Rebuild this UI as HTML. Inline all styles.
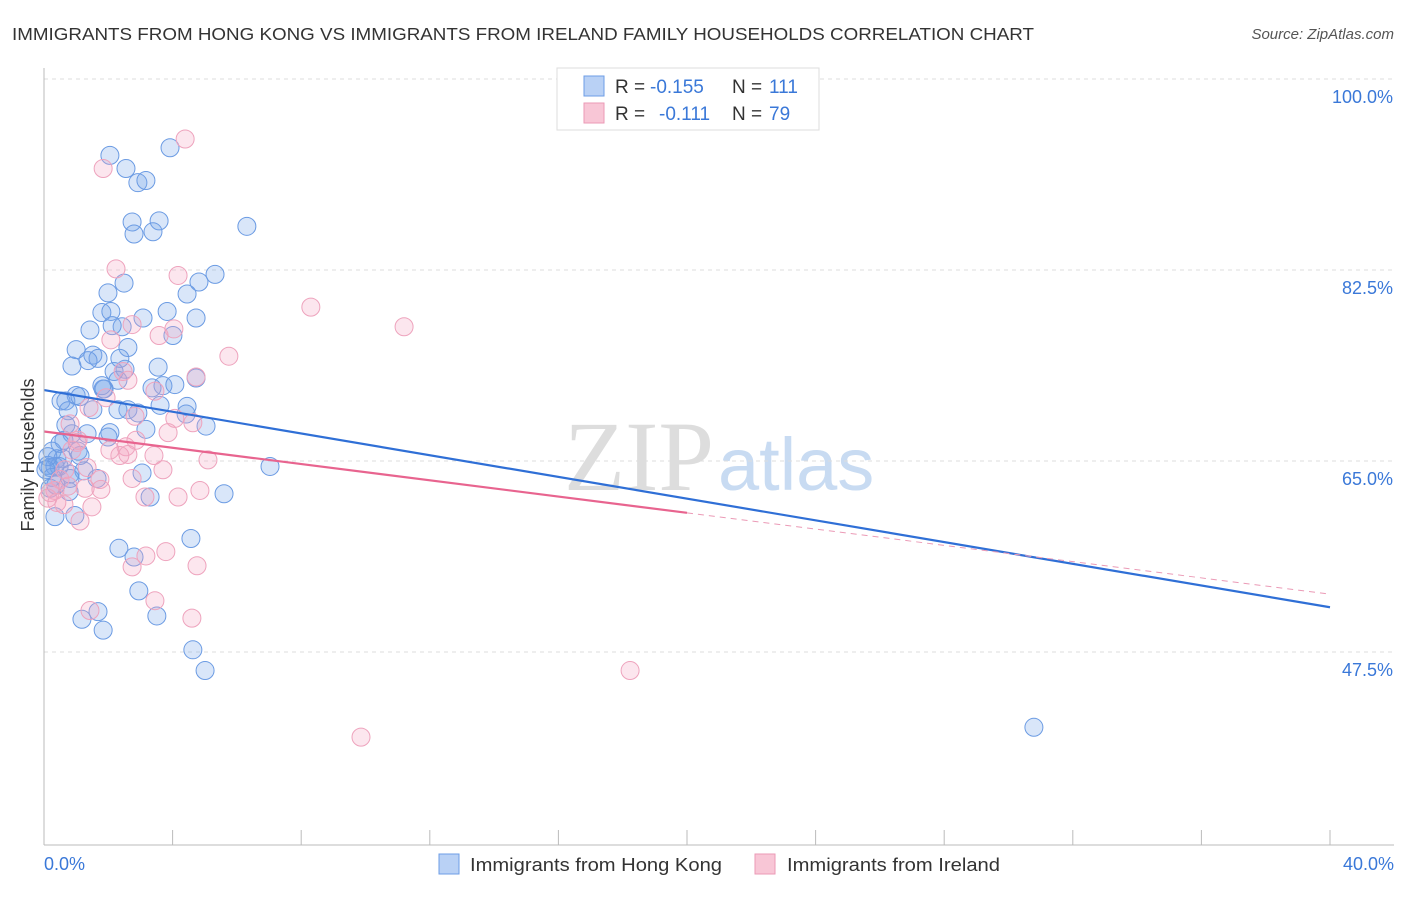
<!DOCTYPE html>
<html><head><meta charset="utf-8"><style>
body{margin:0;background:#fff;font-family:"Liberation Sans",sans-serif}
</style></head><body>
<svg width="1406" height="892" xmlns="http://www.w3.org/2000/svg" id="svg" style="font-family:'Liberation Sans',sans-serif">
<text x="12" y="40" font-size="17.5" fill="#333" textLength="1022" lengthAdjust="spacingAndGlyphs">IMMIGRANTS FROM HONG KONG VS IMMIGRANTS FROM IRELAND FAMILY HOUSEHOLDS CORRELATION CHART</text>
<text x="1394" y="39" font-size="15" fill="#555" font-style="italic" text-anchor="end">Source: ZipAtlas.com</text>
<text x="714" y="490" font-size="100" fill="#ddd" text-anchor="end" font-family="Liberation Serif,serif">ZIP</text>
<text x="718" y="490" font-size="74" fill="#c8dbf2">atlas</text>
<g id="grid"></g><g id="pts"></g><g id="lines"></g>
<line x1="44" y1="68" x2="44" y2="845" stroke="#bbb"/>
<line x1="44" y1="845" x2="1394" y2="845" stroke="#bbb"/>
<text x="34" y="455" font-size="18" fill="#333" text-anchor="middle" transform="rotate(-90 34 455)">Family Households</text>
<text x="44" y="870" font-size="18" fill="#3a78d8">0.0%</text>
<text x="1394" y="870" font-size="18" fill="#3a78d8" text-anchor="end">40.0%</text>
<rect x="557" y="68" width="262" height="62" fill="#fff" stroke="#ddd"/>
<rect x="584" y="76" width="20" height="20" fill="#b9d1f5" stroke="#6d9de6"/>
<rect x="584" y="103" width="20" height="20" fill="#f8c6d6" stroke="#eb9ab6"/>
<g font-size="19" fill="#333">
<text x="615" y="93">R =</text><text x="650" y="93" fill="#3a78d8">-0.155</text><text x="732" y="93">N =</text><text x="769" y="93" fill="#3a78d8">111</text></g>
<g font-size="19" fill="#333">
<text x="615" y="120">R =</text><text x="659" y="120" fill="#3a78d8">-0.111</text><text x="732" y="120">N =</text><text x="769" y="120" fill="#3a78d8">79</text></g>
<rect x="439" y="854" width="20" height="20" fill="#b9d1f5" stroke="#6d9de6"/>
<text x="470" y="871" font-size="18" fill="#333" textLength="252" lengthAdjust="spacingAndGlyphs">Immigrants from Hong Kong</text>
<rect x="755" y="854" width="20" height="20" fill="#f8c6d6" stroke="#eb9ab6"/>
<text x="787" y="871" font-size="18" fill="#333" textLength="213" lengthAdjust="spacingAndGlyphs">Immigrants from Ireland</text>
</svg>
<script>
const yTicks=[100,82.5,65,47.5];
const yTickLabels=["100.0%","82.5%","65.0%","47.5%"];
const xTicks=[0,4,8,12,16,20,24,28,32,36,40];
const blueX=[2.05,2.55,2.92,3.17,3.92,2.74,3.58,2.80,3.39,6.31,5.32,4.82,4.45,2.49,1.99,3.83,4.73,3.08,1.80,2.08,1.43,2.43,2.12,4.01,1.00,1.52,1.68,2.61,3.55,0.87,1.37,2.18,2.52,2.30,1.84,1.00,0.53,0.68,1.12,1.87,3.36,3.70,4.07,4.73,4.45,3.61,2.61,2.30,2.92,0.75,1.52,5.04,3.17,2.05,1.99,0.87,0.68,0.62,0.50,0.25,0.40,0.59,1.06,1.12,0.19,0.34,0.12,0.47,0.25,1.24,0.81,1.65,0.78,3.05,0.34,0.96,3.30,5.60,7.03,2.33,2.80,4.57,2.95,1.18,1.68,1.84,3.51,4.63,5.01,30.79,4.42,2.36,0.12,0.06,0.19,0.37,1.34,1.80,0.81];
const blueY=[93.0,91.8,90.5,90.7,93.7,86.9,87.0,85.8,86.0,86.5,82.1,81.4,80.3,81.3,80.4,78.7,78.1,78.1,78.6,78.7,77.0,77.3,77.4,76.5,75.2,74.7,74.4,75.4,73.6,73.7,74.2,73.2,73.4,72.4,71.6,71.0,70.5,70.5,70.9,71.6,71.7,71.9,72.0,72.6,70.0,70.1,69.7,69.7,69.4,69.6,69.7,68.2,67.9,67.6,67.2,67.5,68.3,66.9,66.6,65.9,65.2,65.2,65.9,65.5,64.4,64.5,64.6,64.5,63.5,64.1,63.4,63.4,62.2,63.9,59.9,60.0,61.7,62.0,64.5,57.0,56.2,57.9,53.1,50.5,51.2,49.5,50.8,47.7,45.8,40.6,69.3,74.4,65.4,64.2,62.5,62.8,67.5,71.9,63.8];
const pinkX=[4.39,1.84,2.24,4.17,8.30,11.20,2.74,2.08,4.04,3.58,5.75,4.73,2.46,2.61,3.45,1.93,1.40,0.81,1.06,2.83,4.07,4.63,3.86,2.86,2.55,2.36,3.42,5.10,3.70,2.74,1.34,1.74,1.28,1.77,0.50,0.34,0.19,0.12,0.40,0.62,1.12,1.49,3.14,4.17,4.85,3.79,3.17,2.74,4.76,1.03,0.87,0.65,0.75,1.43,3.45,4.60,18.23,9.86,2.61,2.05];
const pinkY=[94.5,91.8,82.6,82.0,79.1,77.3,77.5,76.1,77.1,76.5,74.6,72.7,73.2,72.4,71.4,70.8,69.9,68.4,66.9,69.1,68.9,68.5,67.6,66.9,66.3,65.5,65.5,65.1,64.2,63.4,64.4,63.3,62.5,62.4,63.3,62.3,62.1,61.6,61.2,61.0,59.5,60.8,61.7,61.7,62.3,56.7,56.3,55.3,55.4,66.7,66.0,64.2,62.7,51.3,52.2,50.6,45.8,39.7,65.6,66.0];
const blueTrend=[71.5,51.6];
const pinkTrend=[67.7,52.8];
const NS="http://www.w3.org/2000/svg";
const xs=v=>44+v*32.15;
const ys=v=>79+(100-v)*10.914;
function mk(t,a,p){const e=document.createElementNS(NS,t);for(const k in a)e.setAttribute(k,a[k]);document.getElementById(p).appendChild(e);return e;}
yTicks.forEach((t,i)=>{
 const l=mk('line',{x1:44,x2:1394,y1:ys(t),y2:ys(t),stroke:'#ddd','stroke-dasharray':'4,4'},'grid');
 
 
 const tx=mk('text',{x:1393,y:ys(t)+24,'font-size':18,fill:'#3a78d8','text-anchor':'end'},'grid');
 tx.textContent=yTickLabels[i];
 
 
});
xTicks.forEach(t=>{
 const l=mk('line',{x1:xs(t),x2:xs(t),y1:830,y2:845,stroke:'#bbb'},'grid');
 
 
});
blueX.forEach((x,i)=>{
 const c=mk('circle',{cx:xs(x),cy:ys(blueY[i]),r:9,fill:'rgba(120,165,235,0.28)',stroke:'#6b9be3','stroke-width':1},'pts');
 
 
});
pinkX.forEach((x,i)=>{
 const c=mk('circle',{cx:xs(x),cy:ys(pinkY[i]),r:9,fill:'rgba(245,165,195,0.28)',stroke:'#eea3bd','stroke-width':1},'pts');
 
 
});
const bl=mk('line',{x1:xs(0),y1:ys(blueTrend[0]),x2:xs(40),y2:ys(blueTrend[1]),stroke:'#2f6fd6','stroke-width':2.2},'lines');


const pm=v=>pinkTrend[0]+(pinkTrend[1]-pinkTrend[0])*v/40;
const pl=mk('line',{x1:xs(0),y1:ys(pm(0)),x2:xs(20),y2:ys(pm(20)),stroke:'#e8648f','stroke-width':2.2},'lines');


const pd=mk('line',{x1:xs(20),y1:ys(pm(20)),x2:xs(40),y2:ys(pm(40)),stroke:'#eb9ab6','stroke-width':1,'stroke-dasharray':'6,5'},'lines');


</script>
</body></html>
